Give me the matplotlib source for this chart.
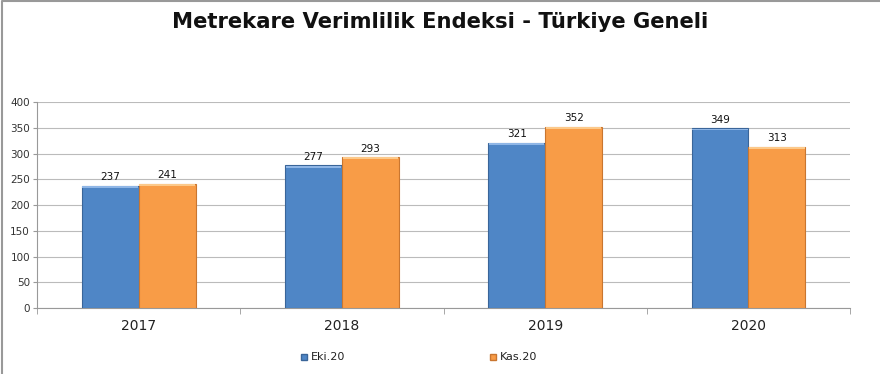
import numpy as np
import matplotlib.pyplot as plt
from matplotlib.lines import Line2D
from matplotlib.patches import Rectangle

# Datos
years = ["2017", "2018", "2019", "2020"]
eki20 = [237, 277, 321, 349]
kas20 = [241, 293, 352, 313]
series_names = ["Eki.20", "Kas.20"]

BLUE = "#4F86C6"
BLUE_EDGE = "#3A6599"
BLUE_TOP = "#8FB6E6"
ORANGE = "#F89C47"
ORANGE_EDGE = "#C97630"
ORANGE_TOP = "#FCC98A"

fig = plt.figure(figsize=(8.8, 3.74), dpi=100)
ax = fig.add_axes([0.042, 0.176, 0.924, 0.551])

x = np.arange(len(years))
w = 0.28

b1 = ax.bar(x - w / 2, eki20, w, color=BLUE, edgecolor=BLUE_EDGE, linewidth=0.8, zorder=3)
b2 = ax.bar(x + w / 2, kas20, w, color=ORANGE, edgecolor=ORANGE_EDGE, linewidth=0.8, zorder=3)

# brillo superior tipo bisel
for bars, top in ((b1, BLUE_TOP), (b2, ORANGE_TOP)):
    for r in bars:
        ax.add_patch(Rectangle((r.get_x() + 0.004, r.get_height() - 4), r.get_width() - 0.008, 3.5,
                               color=top, zorder=4, linewidth=0))

for bars, vals in ((b1, eki20), (b2, kas20)):
    for r, v in zip(bars, vals):
        ax.text(r.get_x() + r.get_width() / 2, v + 7, str(v), ha="center", va="bottom",
                fontsize=7.5, color="#111111", zorder=5)

ax.set_xlim(-0.5, len(years) - 0.5)
ax.set_ylim(0, 400)
ax.set_yticks(range(0, 401, 50))
ax.yaxis.grid(True, color="#BBBBBB", linewidth=0.8, zorder=0)
ax.tick_params(axis="y", labelsize=7.5, colors="#333333", length=3, color="#999999", pad=2)

ax.set_xticks(x)
ax.set_xticklabels(years, fontsize=10, color="#222222")
ax.tick_params(axis="x", length=0, pad=8)
ax.set_xticks(np.arange(-0.5, len(years), 1), minor=True)
ax.tick_params(axis="x", which="minor", length=4, color="#999999")

for s in ("top", "right"):
    ax.spines[s].set_visible(False)
ax.spines["left"].set_color("#999999")
ax.spines["bottom"].set_color("#999999")

fig.text(0.5, 0.94, "Metrekare Verimlilik Endeksi - Türkiye Geneli", ha="center", va="center",
         fontsize=15.2, fontweight="bold", color="#111111")

# leyenda manual
fig.text(0.353, 0.045, series_names[0], fontsize=8, color="#222222", va="center")
fig.text(0.568, 0.045, series_names[1], fontsize=8, color="#222222", va="center")
fig.lines.append(Line2D([0.345], [0.045], marker="s", markersize=4.5, color=BLUE,
                        markeredgecolor=BLUE_EDGE, transform=fig.transFigure))
fig.lines.append(Line2D([0.56], [0.045], marker="s", markersize=4.5, color=ORANGE,
                        markeredgecolor=ORANGE_EDGE, transform=fig.transFigure))

# marco gris superior e izquierdo
fig.lines.append(Line2D([0.002, 0.002, 1], [0, 0.997, 0.997], color="#999999", linewidth=1.5,
                        transform=fig.transFigure))

fig.savefig("out.png", dpi=100)
